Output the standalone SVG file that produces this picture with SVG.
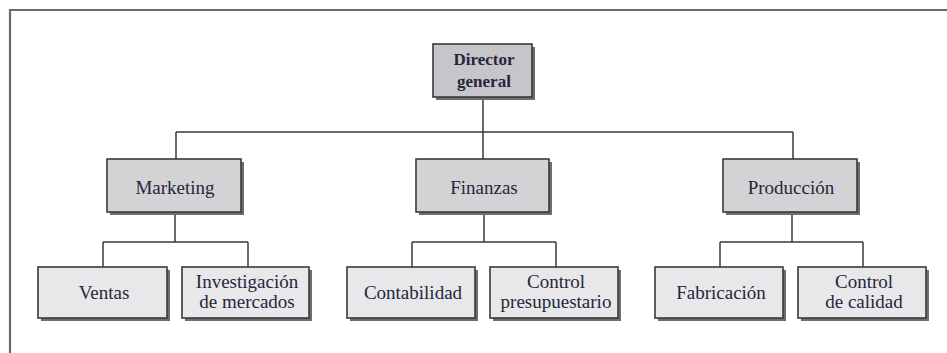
<svg xmlns="http://www.w3.org/2000/svg" width="947" height="353" viewBox="0 0 947 353" font-family="Liberation Serif, DejaVu Serif, serif">
<style>
.frame{fill:none;stroke:#6a6a6a;stroke-width:2.2}
.conn{fill:none;stroke:#3a3a3a;stroke-width:1.5}
.shadow{fill:#6e6e6e}
.top{fill:#d3d3d6;stroke:#3a3a3a;stroke-width:1.6}
.dir{fill:#c6c6ca;stroke:#3a3a3a;stroke-width:1.6}
.sub{fill:#e8e8ea;stroke:#3a3a3a;stroke-width:1.6}
text{font-family:'Liberation Serif','DejaVu Serif',serif;font-size:19px;fill:#26263a;text-anchor:middle}
.b{font-weight:bold;font-size:17px}
</style>
<rect width="947" height="353" fill="#ffffff"/>
<path class="frame" d="M10,353 V10 H947"/>
<g id="connectors">
<path class="conn" d="M483,97 V132 M176,132 H793 M176,132 V159 M483,132 V159 M793,132 V159"/>
<path class="conn" d="M175,212 V242 M103,242 H248 M103,242 V267 M248,242 V267"/>
<path class="conn" d="M484,212 V242 M412,242 H556 M412,242 V267 M556,242 V267"/>
<path class="conn" d="M792,212 V242 M720,242 H863 M720,242 V267 M863,242 V267"/>
</g>
<g id="director">
<rect class="shadow" x="436" y="47" width="99" height="53"/>
<rect class="dir" x="433" y="44" width="99" height="53"/>
<text class="b" x="484" y="65">Director</text>
<text class="b" x="484" y="87">general</text>
</g>
<g id="marketing">
<rect class="shadow" x="110" y="162" width="134" height="53"/>
<rect class="top" x="107" y="159" width="134" height="53"/>
<text x="175" y="194">Marketing</text>
</g>
<g id="finanzas">
<rect class="shadow" x="419" y="162" width="133" height="53"/>
<rect class="top" x="416" y="159" width="133" height="53"/>
<text x="484" y="194">Finanzas</text>
</g>
<g id="produccion">
<rect class="shadow" x="726" y="162" width="134" height="53"/>
<rect class="top" x="723" y="159" width="134" height="53"/>
<text x="791" y="194">Producción</text>
</g>
<g id="ventas">
<rect class="shadow" x="41" y="270" width="129" height="51"/>
<rect class="sub" x="38" y="267" width="129" height="51"/>
<text x="104" y="299">Ventas</text>
</g>
<g id="investigacion">
<rect class="shadow" x="185" y="270" width="127" height="51"/>
<rect class="sub" x="182" y="267" width="127" height="51"/>
<text x="247" y="288">Investigación</text>
<text x="247" y="308">de mercados</text>
</g>
<g id="contabilidad">
<rect class="shadow" x="350" y="270" width="128" height="51"/>
<rect class="sub" x="347" y="267" width="128" height="51"/>
<text x="413" y="299">Contabilidad</text>
</g>
<g id="control-presupuestario">
<rect class="shadow" x="493" y="270" width="128" height="51"/>
<rect class="sub" x="490" y="267" width="128" height="51"/>
<text x="556" y="288">Control</text>
<text x="556" y="308">presupuestario</text>
</g>
<g id="fabricacion">
<rect class="shadow" x="658" y="270" width="128" height="51"/>
<rect class="sub" x="655" y="267" width="128" height="51"/>
<text x="721" y="299">Fabricación</text>
</g>
<g id="control-calidad">
<rect class="shadow" x="801" y="270" width="128" height="51"/>
<rect class="sub" x="798" y="267" width="128" height="51"/>
<text x="864" y="288">Control</text>
<text x="864" y="308">de calidad</text>
</g>
</svg>
